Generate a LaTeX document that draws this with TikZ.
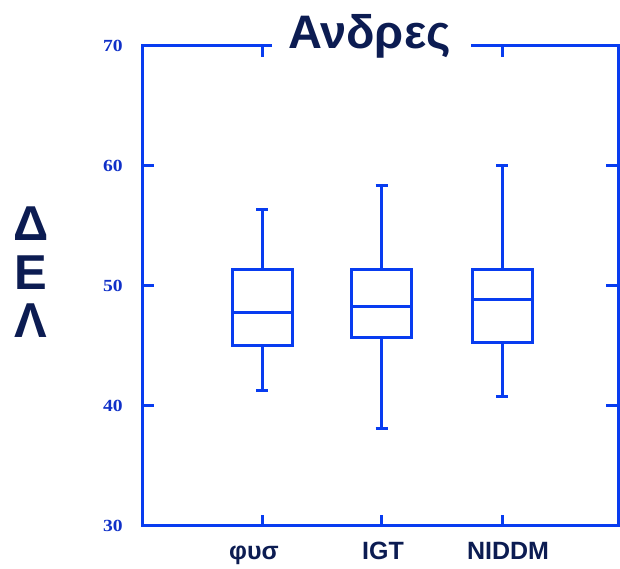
\documentclass[tikz,border=0pt]{standalone}
\usepackage{fontspec}
\setmainfont{Liberation Sans}
\newfontfamily\numfont{Liberation Serif}
\usetikzlibrary{positioning}
\definecolor{plotblue}{RGB}{8,60,240}
\definecolor{navy}{RGB}{12,28,82}
\definecolor{numblue}{RGB}{16,48,200}
\tikzset{
  axisline/.style={plotblue, line width=3pt},
  ticklabel/.style={numblue, anchor=east, inner sep=0pt, font=\numfont\bfseries\fontsize{17}{17}\selectfont},
  grouplabel/.style={navy, anchor=base, inner sep=0pt, font=\bfseries\fontsize{25}{25}\selectfont},
  bigletter/.style={navy, anchor=base, inner sep=0pt, font=\bfseries\fontsize{49}{49}\selectfont}
}

\begin{document}
\begin{tikzpicture}[x=1pt, y=12pt]
        \useasboundingbox (0,26.4167) rectangle (620,73.8333);
        % frame, broken under the title
        \draw[axisline] (272,70) -- (142,70) -- (142,30) -- (618,30) -- (618,70) -- (471,70);
        \foreach \v in {40,50,60}{\draw[axisline] (142,\v) -- (154,\v); \draw[axisline] (618,\v) -- (606,\v);}
        \foreach \x in {262,381.5,502}{\draw[axisline] (\x,30) -- (\x,30.92);}
        \foreach \x in {262,502}{\draw[axisline] (\x,70) -- (\x,69.08);}
        \foreach \v in {30,40,...,70}{\node[ticklabel, xscale=1.15] (tick\v) at (123,\v) {\v};}
        % boxes: centre/low/q1/median/q3/high
        \foreach \x/\lo/\qa/\me/\qb/\hi in {262/41.25/45/47.8/51.4/56.4, 381.5/38.1/45.7/48.25/51.4/58.4, 502/40.75/45.3/48.9/51.4/60}{
            \draw[axisline] (\x-30,\qa) rectangle (\x+30,\qb);
            \draw[axisline] (\x-30,\me) -- (\x+30,\me);
            \draw[axisline] (\x,\qb) -- (\x,\hi) (\x-6,\hi) -- (\x+6,\hi);
            \draw[axisline] (\x,\qa) -- (\x,\lo) (\x-6,\lo) -- (\x+6,\lo);
        }
        \foreach \x/\name in {254/φυσ,383/IGT,508/NIDDM}{\node[grouplabel] (group\x) at (\x,27.17) {\name};}
        \foreach \y/\l in {53.75/Δ,49.67/Ε,45.67/Λ}{\node[bigletter] (axis\y) at (31,\y) {\l};}
        \node[navy, anchor=base, inner sep=0pt, font=\bfseries\fontsize{47}{47}\selectfont] (title) at (369.5,69.8) {Ανδρες};
    \end{tikzpicture}
\end{document}
